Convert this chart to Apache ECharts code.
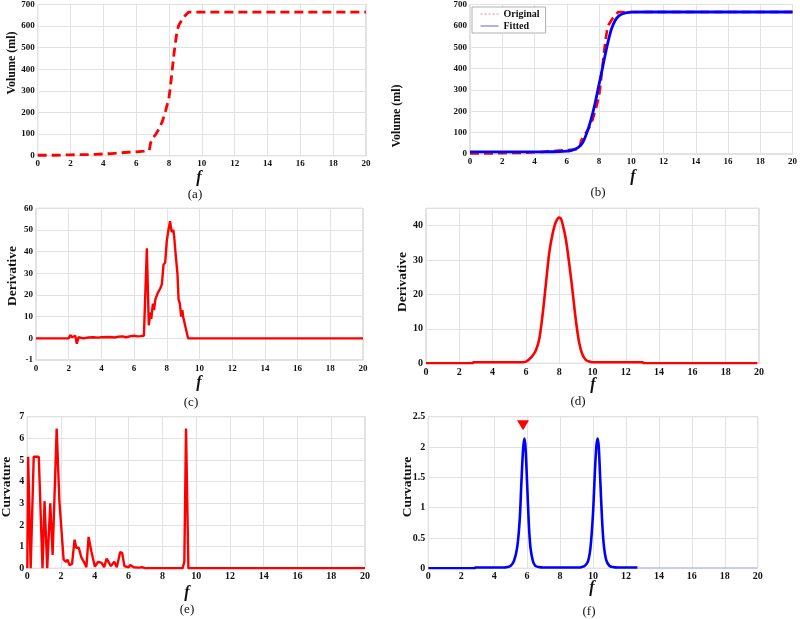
<!DOCTYPE html>
<html><head><meta charset="utf-8">
<script src="https://cdn.jsdelivr.net/npm/echarts@6/dist/echarts.min.js"></script>
<style>html,body{margin:0;padding:0;background:#fff}#c{width:800px;height:619px}</style>
</head><body><div id="c"></div><script>
// ---- data ----
const volumeOriginal = [[0,2],[1,2],[1.5,3],[2,4],[2.5,5],[3,5],[3.5,6],[4,8],[4.5,10],[5,13],[5.5,16],[6,18],[6.5,21],[6.8,25],[6.88,60],[7.0,80],[7.2,100],[7.4,125],[7.6,160],[7.8,210],[8.0,270],[8.1,330],[8.2,400],[8.3,470],[8.4,530],[8.5,580],[8.6,605],[8.8,630],[9.0,650],[9.2,665],[20,665]];
const volumeFitted = [[0,10],[2,10],[4,10],[5,10.5],[5.5,11],[6,13],[6.25,16],[6.5,22],[6.75,33],[7,55],[7.25,100],[7.5,160],[7.75,235],[8,325],[8.25,415],[8.5,505],[8.75,580],[9,625],[9.25,648],[9.5,658],[9.75,662],[10,664],[11,665],[20,665]];
const derivOriginal = [[0,0],[1.3,0],[1.4,0.3],[1.5,0],[2.0,0],[2.1,1.5],[2.2,0.5],[2.3,0.2],[2.4,1.2],[2.5,-2.5],[2.6,0.5],[2.7,-0.3],[2.9,0],[3.2,0.4],[3.5,0.5],[3.8,0.3],[4.0,0.5],[4.5,0.6],[4.8,0.4],[5.0,0.7],[5.3,0.9],[5.5,0.5],[5.6,-0.1],[5.8,1.0],[6.0,1.2],[6.2,0.9],[6.4,1.0],[6.6,1.2],[6.72,1.5],[6.78,41.5],[6.85,20],[6.9,6],[7.0,12],[7.05,9],[7.15,16],[7.22,13],[7.3,18],[7.45,21],[7.6,23],[7.7,25],[7.8,34],[7.9,35],[8.0,45],[8.1,50],[8.2,54],[8.3,49],[8.4,50],[8.45,47],[8.55,38],[8.65,30],[8.72,18],[8.8,16],[8.88,10],[8.95,13],[9.0,10],[9.3,0],[20,0]];
const derivFitted = [[0,0],[2.8,0],[2.85,0.3],[5.8,0.3],[6.0,0.5],[6.2,1.2],[6.4,2.2],[6.6,3.8],[6.8,7],[7.0,14],[7.2,23],[7.4,32],[7.6,37.5],[7.8,41],[8.0,42.3],[8.1,42],[8.2,40.5],[8.4,36],[8.6,29],[8.8,21],[9.0,12.5],[9.2,6],[9.4,2.5],[9.6,1],[9.8,0.5],[10,0.3],[13,0.3],[13.1,0],[19.9,0]];
const curvOriginal = [[0,0],[0.05,5.15],[0.12,5.15],[0.2,0],[0.3,0],[0.38,5.15],[0.68,5.15],[0.9,0],[1.02,3.1],[1.18,0],[1.36,3.0],[1.5,0.62],[1.74,6.45],[1.9,3.1],[2.0,3.1],[2.15,0.4],[2.3,0.3],[2.38,0.4],[2.5,0.15],[2.65,0.2],[2.8,1.32],[2.9,0.95],[3.05,0.95],[3.2,0.5],[3.35,0.3],[3.5,0.05],[3.63,1.45],[3.72,1.45],[3.8,0.75],[3.9,0.7],[4.0,0.08],[4.2,0.3],[4.4,0.25],[4.55,0.05],[4.7,0.45],[4.8,0.45],[4.95,0.1],[5.15,0.3],[5.3,0.05],[5.5,0.75],[5.62,0.7],[5.75,0.1],[6.0,0.05],[6.1,0.15],[6.3,0.05],[6.6,0.03],[6.8,0.05],[7.0,0],[9.2,0],[9.3,0.3],[9.4,6.45],[9.54,0],[20,0]];
const curvFitted = [[0,0],[2.8,0],[2.85,0.012],[4.6,0.012],[4.8,0.02],[5.0,0.04],[5.2,0.12],[5.4,0.35],[5.55,0.8],[5.65,1.4],[5.75,1.95],[5.83,2.14],[5.9,2.0],[6.0,1.4],[6.1,0.75],[6.2,0.35],[6.35,0.12],[6.5,0.04],[6.7,0.02],[7,0.012],[9.2,0.012],[9.3,0.02],[9.5,0.04],[9.7,0.12],[9.85,0.35],[10.0,0.9],[10.1,1.5],[10.2,2.0],[10.28,2.14],[10.35,2.0],[10.45,1.4],[10.55,0.8],[10.65,0.4],[10.8,0.14],[11.0,0.04],[11.2,0.02],[11.5,0.012],[12.7,0.012]];
const curvFittedTail = [[12.7,0.005],[20,0.005]];
const peakMarker = [[5.75,2.36]];
const xTicks = {min:0, max:20, interval:2};
const yRanges = [
  {min:0, max:700, interval:100},
  {min:0, max:700, interval:100},
  {min:-10, max:60, interval:10},
  {min:0, max:45, interval:10},
  {min:0, max:7, interval:1},
  {min:0, max:2.5, interval:0.5}
];
const yTitles = ['Volume (ml)','Volume (ml)','Derivative','Derivative','Curvature','Curvature'];
const captions = ['(a)','(b)','(c)','(d)','(e)','(f)'];
const legendNames = ['Original','Fitted'];

// ---- layout ----
const grids = [
  {left:37.7, top:3.3, width:328.3, height:152.4},
  {left:470, top:3.3, width:326, height:150.7},
  {left:36, top:208.3, width:327, height:151.7},
  {left:426, top:208.3, width:333, height:155},
  {left:27.3, top:416.7, width:337.7, height:151.6},
  {left:428.3, top:416.7, width:329.4, height:151.6}
];
const labelSize = [9,9,9,10,10,10];
const xMargin = [3,3,4,4,3,3];
const yTitlePos = [[11.5,63,12],[397,116,12],[12.5,276,13.5],[403,282,13.5],[7,487,13.5],[407.5,487,13.5]];
const fPos = [[199,178],[633,177],[199,383],[593,385],[187,593],[592,588]];
const capPos = [[195,195],[598,193],[191,403],[578,402],[187,610],[589,612]];
const SERIF = '"Liberation Serif","Times New Roman",serif';

const gridOpt = grids.map(g => Object.assign({show:true, borderColor:'#c4c4c4', borderWidth:1, backgroundColor:'#fff', containLabel:false}, g));
const xAxes = grids.map((g,i) => ({
  type:'value', gridIndex:i, min:xTicks.min, max:xTicks.max, interval:xTicks.interval,
  axisLine:{show:false}, axisTick:{show:false},
  splitLine:{show:true, lineStyle:{color:'#e2e2e2', width:1}},
  axisLabel:{color:'#111', fontFamily:SERIF, fontWeight:'bold', fontSize:labelSize[i], margin:xMargin[i]}
}));
const yAxes = grids.map((g,i) => ({
  type:'value', gridIndex:i, min:yRanges[i].min, max:yRanges[i].max, interval:yRanges[i].interval,
  axisLine:{show:false}, axisTick:{show:false},
  splitLine:{show:true, lineStyle:{color:'#e2e2e2', width:1}},
  axisLabel:{color:'#111', fontFamily:SERIF, fontWeight:'bold', fontSize:labelSize[i], margin:3,
    showMaxLabel: i !== 3,
    formatter: v => (i === 2 && v === -10) ? '-1' : String(v)}
}));

const red = '#ff0000', blue = '#0000ff';
const series = [
  {type:'line', xAxisIndex:0, yAxisIndex:0, data:volumeOriginal, symbol:'none', lineStyle:{color:red, width:2.8, type:[9,5]}},
  {name:legendNames[0], type:'line', xAxisIndex:1, yAxisIndex:1, data:volumeOriginal, symbol:'none', itemStyle:{color:red}, lineStyle:{color:red, width:2.6, type:[9,5]}},
  {name:legendNames[1], type:'line', xAxisIndex:1, yAxisIndex:1, data:volumeFitted, symbol:'none', smooth:0.3, itemStyle:{color:blue}, lineStyle:{color:blue, width:2.8}},
  {type:'line', xAxisIndex:2, yAxisIndex:2, data:derivOriginal, symbol:'none', lineStyle:{color:red, width:2.4}},
  {type:'line', xAxisIndex:3, yAxisIndex:3, data:derivFitted, symbol:'none', smooth:0.3, lineStyle:{color:red, width:2.6}},
  {type:'line', xAxisIndex:4, yAxisIndex:4, data:curvOriginal, symbol:'none', lineStyle:{color:red, width:2.4}},
  {type:'line', xAxisIndex:5, yAxisIndex:5, data:curvFitted, symbol:'none', smooth:0.3, lineStyle:{color:blue, width:2.6}},
  {type:'line', xAxisIndex:5, yAxisIndex:5, data:curvFittedTail, symbol:'none', lineStyle:{color:'#9fa8ff', width:1}},
  {type:'scatter', xAxisIndex:5, yAxisIndex:5, data:peakMarker, symbol:'triangle', symbolRotate:180, symbolSize:[12,10], itemStyle:{color:red, opacity:1}}
];

const graphics = [];
yTitles.forEach((t,i) => graphics.push({type:'text', x:yTitlePos[i][0], y:yTitlePos[i][1], rotation:Math.PI/2,
  style:{text:t, font:'bold '+yTitlePos[i][2]+'px '+SERIF, fill:'#111', align:'center', verticalAlign:'middle'}}));
fPos.forEach(p => graphics.push({type:'text', x:p[0], y:p[1],
  style:{text:'f', font:'italic bold 16px '+SERIF, fill:'#111', align:'center', verticalAlign:'middle'}}));
captions.forEach((t,i) => graphics.push({type:'text', x:capPos[i][0], y:capPos[i][1],
  style:{text:t, font:'13px '+SERIF, fill:'#111', align:'center', verticalAlign:'middle'}}));

const hidden = {color:'rgba(0,0,0,0)', borderWidth:0, opacity:0};
const chart = echarts.init(document.getElementById('c'), null, {renderer:'canvas'});
chart.setOption({
  animation:false,
  backgroundColor:'#fff',
  grid:gridOpt, xAxis:xAxes, yAxis:yAxes, series:series,
  legend:{
    left:472, top:7, orient:'vertical', backgroundColor:'#fff', borderColor:'#b0b0b0', borderWidth:1,
    padding:[2,6,2,8], itemGap:2, itemWidth:18, itemHeight:10,
    textStyle:{fontFamily:SERIF, fontWeight:'bold', fontSize:10, color:'#111', padding:[0,0,0,0]},
    data:[
      {name:legendNames[0], itemStyle:hidden, lineStyle:{width:1, type:[2,2], color:'#ff8080'}},
      {name:legendNames[1], itemStyle:hidden, lineStyle:{width:1, color:'#6060ff'}}
    ]
  },
  graphic:graphics
});
</script></body></html>
